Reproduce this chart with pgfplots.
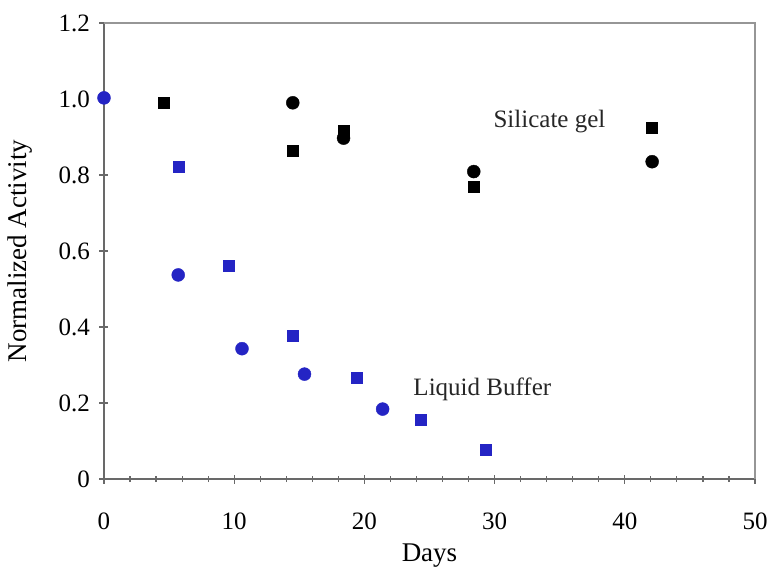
\documentclass[border=0pt]{standalone}
\usepackage{fontspec}
\setmainfont{Liberation Serif}
\usepackage{pgfplots}
\pgfplotsset{compat=1.18}

\definecolor{bufblue}{RGB}{36,36,196}
\definecolor{axisdark}{RGB}{105,105,105}
\definecolor{axislight}{RGB}{150,150,150}

\newcommand{\ticksize}{\fontsize{25bp}{28bp}\selectfont}
\newcommand{\labsize}{\fontsize{27bp}{30bp}\selectfont}

\begin{document}
\begin{tikzpicture}
\useasboundingbox (-104bp,-88bp) rectangle (670bp,479bp);
\begin{axis}[
  scale only axis,
  width=651bp, height=456bp,
  xmin=0, xmax=50, ymin=0, ymax=1.2,
  axis lines=left,
  axis line style={-, axisdark, line width=1.6bp},
  xtick={0,10,20,30,40,50},
  minor x tick num=4,
  ytick={0,0.2,0.4,0.6,0.8,1.0,1.2},
  yticklabels={0,0.2,0.4,0.6,0.8,1.0,1.2},
  tick align=center,
  major tick length=9bp,
  minor tick length=6bp,
  every tick/.style={axisdark, line width=1.2bp},
  /pgf/number format/assume math mode=true,
  xticklabel style={font=\ticksize, anchor=north, yshift=-26bp},
  yticklabel style={font=\ticksize, anchor=east, xshift=-6bp},
  xlabel={Days},
  ylabel={Normalized Activity},
  xlabel style={font=\labsize, at={(axis description cs:0.5,-0.167)}, anchor=center},
  ylabel style={font=\labsize, at={(axis description cs:-0.129,0.5)}, anchor=center},
  clip=false,
]
% upper and right frame lines
\draw[axislight, line width=1.2bp] (rel axis cs:0,1) -- (rel axis cs:1,1) -- (rel axis cs:1,0);

% Silicate gel
\addplot[only marks, mark=*, mark size=6.5bp, black] coordinates {
  (14.5,0.990) (18.4,0.897) (28.4,0.809) (42.1,0.835)
};
\addplot[only marks, mark=square*, mark size=5.5bp, black] coordinates {
  (4.6,0.990) (14.5,0.864) (18.4,0.917) (28.4,0.768) (42.1,0.924)
};

% Liquid buffer
\addplot[only marks, mark=*, mark size=6.5bp, bufblue] coordinates {
  (0,1.003) (5.7,0.537) (10.6,0.343) (15.4,0.276) (21.4,0.184)
};
\addplot[only marks, mark=square*, mark size=5.5bp, bufblue] coordinates {
  (5.7,0.822) (9.6,0.561) (14.5,0.376) (19.4,0.267) (24.35,0.157) (29.3,0.076)
};

\node[anchor=base west, font=\ticksize, text=black!85] at (axis cs:29.65,0.924) {Silicate gel};
\node[anchor=base west, font=\ticksize, text=black!85] at (axis cs:23.5,0.221) {Liquid Buffer};
\end{axis}
\end{tikzpicture}
\end{document}
